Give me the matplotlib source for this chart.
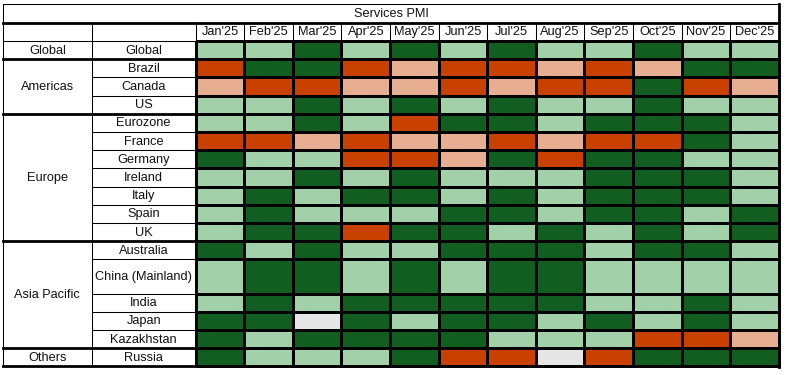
import matplotlib
matplotlib.use("Agg")
import matplotlib.pyplot as plt
from matplotlib.colors import ListedColormap
import numpy as np

title = "Services PMI"
months = ["Jan'25", "Feb'25", "Mar'25", "Apr'25", "May'25", "Jun'25",
          "Jul'25", "Aug'25", "Sep'25", "Oct'25", "Nov'25", "Dec'25"]
regions = ["Global", "Americas", "Europe", "Asia Pacific", "Others"]
region_countries = [
    ["Global"],
    ["Brazil", "Canada", "US"],
    ["Eurozone", "France", "Germany", "Ireland", "Italy", "Spain", "UK"],
    ["Australia", "China (Mainland)", "India", "Japan", "Kazakhstan"],
    ["Russia"],
]
# D = dark green, L = light green, O = dark orange, S = light orange, G = grey
status = {
    "Global":           "L L D L D L D L L D L L",
    "Brazil":           "O D D O S O O S O S D D",
    "Canada":           "S O O S S O S O O D O S",
    "US":               "L L D L D L D L L D L L",
    "Eurozone":         "L L D L O D D L D D D L",
    "France":           "O O S O S S O S O O D L",
    "Germany":          "D L L O O S D O D D L L",
    "Ireland":          "L L D L D L L L D D D L",
    "Italy":            "L D L D D L D L D D D L",
    "Spain":            "L D L L L D D L D D L D",
    "UK":               "L D D O D D L D L D L D",
    "Australia":        "D L D L L D D D L D D L",
    "China (Mainland)": "L D D L D L D D L L L L",
    "India":            "L D L D D D D D L L D L",
    "Japan":            "D D G D L D D L D L D L",
    "Kazakhstan":       "D L D D D D L L L O O S",
    "Russia":           "D L L L D O O G O D D D",
}

codes = ["D", "L", "O", "S", "G"]
palette = ["#125E20", "#A1D0A9", "#C84100", "#E8AE92", "#E6E6E6"]

# ---- layout (pixel units) ----
W, H = 789, 375
x0, reg_w, cty_w, mon_w = 3.0, 88.7, 104.0, 48.6
y0, title_h, head_h, row_h, china_h = 4.0, 18.7, 18.3, 18.2, 34.3

countries = [c for g in region_countries for c in g]
heights = [china_h if c == "China (Mainland)" else row_h for c in countries]
y_edges = y0 + title_h + head_h + np.concatenate([[0], np.cumsum(heights)])
x_month = x0 + reg_w + cty_w + mon_w * np.arange(len(months) + 1)
x_right = x_month[-1]
x_reg = x0 + reg_w
x_cty = x_reg + cty_w
y_title_bot = y0 + title_h
y_head_bot = y_title_bot + head_h
y_bot = y_edges[-1]

fig = plt.figure(figsize=(W / 100, H / 100), dpi=100)
ax = fig.add_axes([0, 0, 1, 1])
ax.set_xlim(0, W)
ax.set_ylim(H, 0)
ax.axis("off")

lw_thin, lw_thick = 0.75, 2.0

grid = np.array([[codes.index(v) for v in status[c].split()] for c in countries])
cmap = ListedColormap(palette)
ax.pcolormesh(x_month, y_edges, grid, cmap=cmap, vmin=-0.5, vmax=len(codes) - 0.5,
              edgecolors="black", linewidth=lw_thin)

font = dict(family=["Liberation Sans", "DejaVu Sans"], fontsize=9.2, color="#111111")

# title
ax.text((x0 + x_right) / 2, y0 + title_h / 2 + 0.5, title, ha="center", va="center", **font)
# month headers
for i, m in enumerate(months):
    ax.text((x_month[i] + x_month[i + 1]) / 2, (y_title_bot + y_head_bot) / 2 + 0.5, m,
            ha="center", va="center", **font)

# country rows
for i, c in enumerate(countries):
    ax.text((x_reg + x_cty) / 2, (y_edges[i] + y_edges[i + 1]) / 2 + 0.5, c,
            ha="center", va="center", **font)
    ax.plot([x_reg, x_cty], [y_edges[i + 1]] * 2, color="black", lw=lw_thin)

# regions
idx = 0
group_bounds = []
for r, g in zip(regions, region_countries):
    top, bot = y_edges[idx], y_edges[idx + len(g)]
    ax.text((x0 + x_reg) / 2, (top + bot) / 2 + 0.5, r, ha="center", va="center", **font)
    group_bounds.append(bot)
    idx += len(g)

# vertical lines
for x in [x_reg, x_cty]:
    ax.plot([x, x], [y_title_bot, y_bot], color="black", lw=lw_thin)
for x in x_month[:-1]:
    ax.plot([x, x], [y_title_bot, y_head_bot], color="black", lw=lw_thin)

# horizontal lines
ax.plot([x0, x_right], [y0, y0], color="black", lw=lw_thin)
ax.plot([x0, x_right], [y_title_bot, y_title_bot], color="black", lw=lw_thick)
ax.plot([x0, x_right], [y_head_bot, y_head_bot], color="black", lw=lw_thin)
for b in group_bounds[:-1]:
    ax.plot([x0, x_right], [b, b], color="black", lw=lw_thick)
ax.plot([x0, x_right + 0.5], [y_bot, y_bot], color="black", lw=lw_thick)
# outer borders
ax.plot([x0, x0], [y0, y_bot], color="black", lw=lw_thin)
ax.plot([x_right, x_right], [y0, y_bot + 0.5], color="black", lw=lw_thick)

fig.savefig("out.png", dpi=100)
